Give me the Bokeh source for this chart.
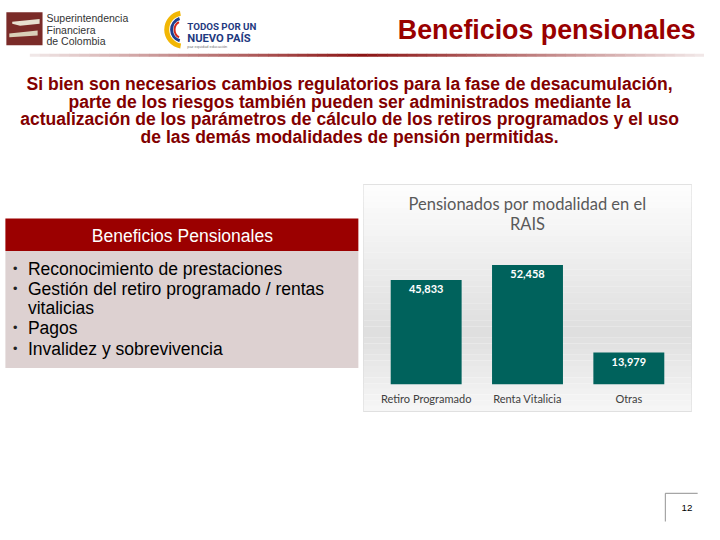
from bokeh.plotting import figure
from bokeh.layouts import column, row
from bokeh.models import Range1d, FactorRange
from bokeh.core.properties import value
from bokeh.embed import file_html
from bokeh.resources import INLINE

# ---------------- data ----------------
categories = ["Retiro Programado", "Renta Vitalicia", "Otras"]
pensionados = [45833, 52458, 13979]
value_labels = [f"{v:,}" for v in pensionados]

chart_title = ["Pensionados por modalidad en el", "RAIS"]
slide_title = "Beneficios pensionales"
paragraph = [
    "Si bien son necesarios cambios regulatorios para la fase de desacumulación,",
    "parte de los riesgos también pueden ser administrados mediante la",
    "actualización de los parámetros de cálculo de los retiros programados y el uso",
    "de las demás modalidades de pensión permitidas.",
]
box_header = "Beneficios Pensionales"
bullets = [
    "Reconocimiento de prestaciones",
    "Gestión del retiro programado / rentas\nvitalicias",
    "Pagos",
    "Invalidez y sobrevivencia",
]
page_number = "12"

ARIAL = "Liberation Sans"
CALIBRI = "Lato"
DARK_RED = "#990000"
PARA_RED = "#820000"

# slide (720x540) drawn onto a 704x524 page
SX = 704 / 720
SY = 524 / 540
FS = 0.975  # font scale


def blank(w, h, x0, x1, y0, y1):
    p = figure(width=w, height=h, x_range=Range1d(x0, x1), y_range=Range1d(y1, y0),
               output_backend="svg", toolbar_location=None,
               x_axis_location=None, y_axis_location=None,
               min_border=0, outline_line_color=None)
    p.grid.visible = False
    p.background_fill_color = "white"
    p.border_fill_color = "white"
    return p


def txt(p, x, y, s, size, color="black", font=ARIAL, align="left", style="normal", baseline="middle"):
    p.text(x=[x], y=[y], text=[s], text_font=value(font), text_font_size=f"{size * FS:.2f}px",
           text_color=color, text_align=align, text_baseline=baseline, text_font_style=style)


def hexmix(c1, c2, t):
    a = [int(c1[i:i + 2], 16) for i in (1, 3, 5)]
    b = [int(c2[i:i + 2], 16) for i in (1, 3, 5)]
    return "#" + "".join(f"{int(round(a[k] + (b[k] - a[k]) * t)):02x}" for k in range(3))


H_TOP, H_MID, H_BOT = 180, 237, 107
W_LEFT, W_CHART = 362, 342
Y_A = H_TOP / SY
Y_B = Y_A + H_MID / SY
X_A = W_LEFT / SX

# ---------------- top (header + paragraph) ----------------
top = blank(704, H_TOP, 0, 720, 0, Y_A)

# SFC logo
top.quad(left=[6], right=[43], top=[12], bottom=[46], fill_color="#7a2b28", line_color=None)
top.patch(x=[12, 40, 40, 20, 12], y=[22, 19, 24, 26, 24], fill_color="#e8e0d0", line_color=None)
top.patch(x=[9, 38, 38, 9], y=[34, 31, 36, 38], fill_color="#d9cfb8", line_color=None)
txt(top, 47, 18, "Superintendencia", 10.8, "#333333")
txt(top, 47, 30, "Financiera", 10.8, "#333333")
txt(top, 47, 42, "de Colombia", 10.8, "#333333")

# Colombia logo
top.arc(x=[187], y=[30], radius=17, start_angle=1.75, end_angle=4.55, line_color="#f2b705", line_width=5)
top.arc(x=[187], y=[30], radius=12, start_angle=1.9, end_angle=4.4, line_color="#1f3f8f", line_width=3)
top.arc(x=[187], y=[30], radius=9, start_angle=2.1, end_angle=4.2, line_color="#d52b1e", line_width=2)
txt(top, 191, 27, "TODOS POR UN", 10, "#1f3a80", font="Roboto", style="bold")
txt(top, 191, 39, "NUEVO PAÍS", 11.5, "#1f3a80", font="Roboto", style="bold")
txt(top, 191, 47, "paz   equidad   educación", 4, "#777777")

# title
txt(top, 711, 30, slide_title, 27.5, DARK_RED, align="right", style="bold")

# gradient divider
n = 68
for i in range(n):
    x0 = 30 + i * (690 / n)
    x1 = x0 + 690 / n + 0.5
    xc = (x0 + x1) / 2
    if xc < 370:
        col = hexmix("#f2eaea", "#8b1414", (xc - 30) / 340)
    else:
        col = hexmix("#8b1414", "#f2eaea", (xc - 370) / 350)
    top.line(x=[x0, x1], y=[56.5, 56.5], line_color=col, line_width=3)

# paragraph
for k, line in enumerate(paragraph):
    txt(top, 357, 86 + k * 18.3, line, 18, PARA_RED, align="center", style="bold")

# ---------------- left box ----------------
left = blank(W_LEFT, H_MID, 0, X_A, Y_A, Y_B)
left.quad(left=[5], right=[366], top=[222], bottom=[257], fill_color="#9b0000", line_color=None)
left.quad(left=[5], right=[366], top=[257], bottom=[383], fill_color="#ddd1d1", line_color=None)
txt(left, 186, 241, box_header, 18, "white", align="center")
ys = [276, 298, 340, 363]
for y, item in zip(ys, bullets):
    txt(left, 15, y, "•", 13, "#222222", align="center")
    for j, part in enumerate(item.split("\n")):
        txt(left, 28, y + j * 20.5, part, 18, "black")

# ---------------- chart ----------------
Y0, Y1 = -11940, 87860
chart = figure(width=W_CHART, height=H_MID,
               x_range=FactorRange(*categories, range_padding=0.079),
               y_range=Range1d(Y0, Y1),
               output_backend="svg", toolbar_location=None,
               x_axis_location=None, y_axis_location=None,
               min_border_left=1, min_border_right=13, min_border_top=4, min_border_bottom=6,
               outline_line_color="#d9d9d9", outline_line_width=1)
chart.grid.visible = False
chart.border_fill_color = "white"
chart.background_fill_color = "white"

# vertical background gradient
nb = 40
for i in range(nb):
    t = (i + 0.5) / nb  # 0 at top, 1 at bottom
    if t < 0.65:
        g = 254 - (254 - 222) * (t / 0.65)
    else:
        g = 222 + (247 - 222) * ((t - 0.65) / 0.35)
    gi = int(round(g))
    col = f"#{gi:02x}{gi:02x}{gi:02x}"
    ytop = Y1 - i * (Y1 - Y0) / nb
    ybot = ytop - (Y1 - Y0) / nb - 50
    chart.quad(left=[-1], right=[4], top=[ytop], bottom=[ybot], fill_color=col, line_color=None,
               level="underlay")

chart.vbar(x=categories, top=pensionados, bottom=0, width=0.7, fill_color="#00625c", line_color=None)
chart.text(x=categories, y=pensionados, text=value_labels, y_offset=9, text_align="center",
           text_baseline="middle", text_color="white", text_font=value(CALIBRI),
           text_font_size="11px", text_font_style="bold")
chart.text(x=categories, y=[0] * 3, text=categories, y_offset=14.5, text_align="center",
           text_baseline="middle", text_color="#404040", text_font=value(CALIBRI),
           text_font_size="11px")
for k, line in enumerate(chart_title):
    chart.text(x=[categories[1]], y=[Y1], text=[line], y_offset=19.5 + 19.5 * k, text_align="center",
               text_baseline="middle", text_color="#595959", text_font=value(CALIBRI),
               text_font_size="16.5px")

# ---------------- bottom ----------------
bottom = blank(704, H_BOT, 0, 720, Y_B, 540)
bottom.line(x=[680, 680, 713], y=[537, 508, 508], line_color="#a6a6a6", line_width=1.2)
txt(bottom, 702, 523, page_number, 10, "black", align="center")

layout = column(top, row(left, chart), bottom)
open("out.html", "w").write(file_html(layout, INLINE))
